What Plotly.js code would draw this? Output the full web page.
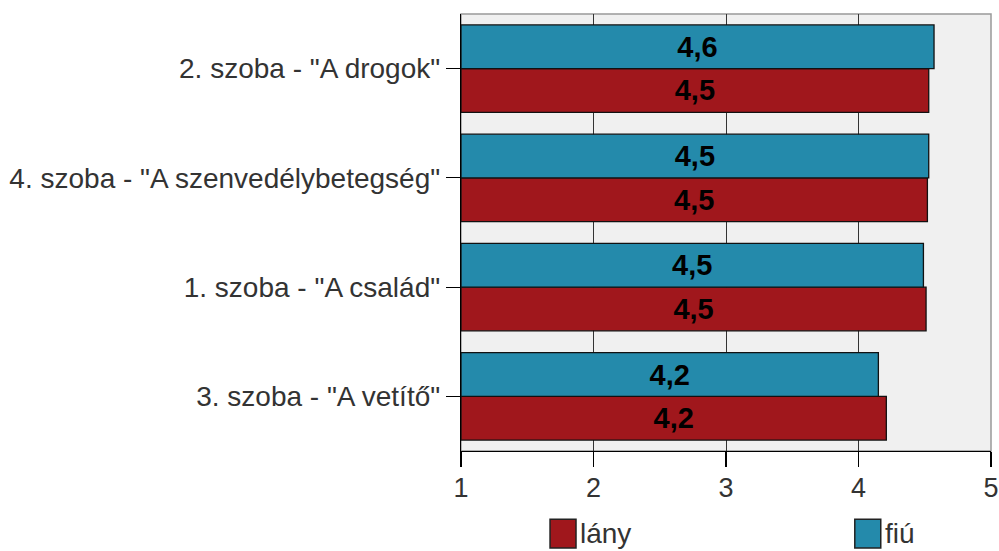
<!DOCTYPE html>
<html><head><meta charset="utf-8">
<script src="https://cdn.plot.ly/plotly-3.0.1.min.js"></script>
<style>html,body{margin:0;padding:0;background:#fff}#c{width:999px;height:551px}</style>
</head><body><div id="c"></div>
<script>
const categories = ['3. szoba - "A vetítő"', '1. szoba - "A család"', '4. szoba - "A szenvedélybetegség"', '2. szoba - "A drogok"'];
const lanyValues = [4.21, 4.51, 4.52, 4.53];
const fiuValues = [4.15, 4.49, 4.53, 4.57];
const seriesNames = ['lány', 'fiú'];
const seriesColors = ['#a0171c', '#248aab'];
const xTicks = [1, 2, 3, 4, 5];
const axisMin = 1;

const FONT = 'Liberation Sans, Arial, sans-serif';
function makeTrace(name, values, color) {
  return {
    type: 'bar', orientation: 'h', name: name, y: categories,
    base: axisMin, x: values.map(v => v - axisMin), customdata: values,
    texttemplate: '%{customdata:.1f}', textposition: 'inside', insidetextanchor: 'middle',
    textfont: {family: FONT, size: 29, color: '#000', weight: 'bold'},
    constraintext: 'none', hoverinfo: 'skip',
    marker: {color: color, line: {color: '#111', width: 1.3}}
  };
}
const data = [
  makeTrace(seriesNames[0], lanyValues, seriesColors[0]),
  makeTrace(seriesNames[1], fiuValues, seriesColors[1])
];

const legendPos = [{x0: 0.168, x1: 0.217}, {x0: 0.743, x1: 0.792}];
const shapes = [
  {type: 'rect', xref: 'paper', yref: 'paper', x0: 0, x1: 1, y0: 0, y1: 1, line: {color: '#999', width: 1.5}, layer: 'below', fillcolor: 'rgba(0,0,0,0)'}
];
const annotations = [];
seriesNames.forEach((n, i) => {
  shapes.push({type: 'rect', xref: 'paper', yref: 'paper', x0: legendPos[i].x0, x1: legendPos[i].x1, y0: -0.156, y1: -0.222,
    fillcolor: seriesColors[i], line: {color: '#222', width: 1.5}});
  annotations.push({xref: 'paper', yref: 'paper', x: legendPos[i].x1 + 0.004, y: -0.189, xanchor: 'left', yanchor: 'middle',
    text: n, showarrow: false, font: {family: FONT, size: 28, color: '#333'}});
});

const layout = {
  width: 999, height: 551,
  margin: {l: 461, r: 8, t: 14, b: 100, pad: 0},
  paper_bgcolor: '#fff', plot_bgcolor: '#f0f0f0',
  separators: ', ',
  barmode: 'group', bargap: 0.2, bargroupgap: 0,
  font: {family: FONT, size: 28, color: '#333'},
  showlegend: false,
  xaxis: {
    range: [1, 5], tickvals: xTicks, ticktext: xTicks.map(String),
    ticks: 'outside', ticklen: 15, tickcolor: '#000', tickwidth: 1.2,
    ticklabelstandoff: -3,
    showgrid: true, gridcolor: '#333', gridwidth: 1,
    showline: true, linecolor: '#000', linewidth: 1.2,
    zeroline: false, tickfont: {size: 27, color: '#333'}, fixedrange: true
  },
  yaxis: {
    type: 'category', categoryorder: 'array', categoryarray: categories,
    range: [-0.5, 3.5],
    ticks: 'outside', ticklen: 14, tickcolor: '#000', tickwidth: 1.2,
    showline: true, linecolor: '#000', linewidth: 1.2,
    showgrid: false, zeroline: false, tickfont: {size: 28, color: '#333'}, fixedrange: true,
    automargin: false
  },
  shapes: shapes,
  annotations: annotations
};
Plotly.newPlot('c', data, layout, {displayModeBar: false, staticPlot: true});
</script></body></html>
